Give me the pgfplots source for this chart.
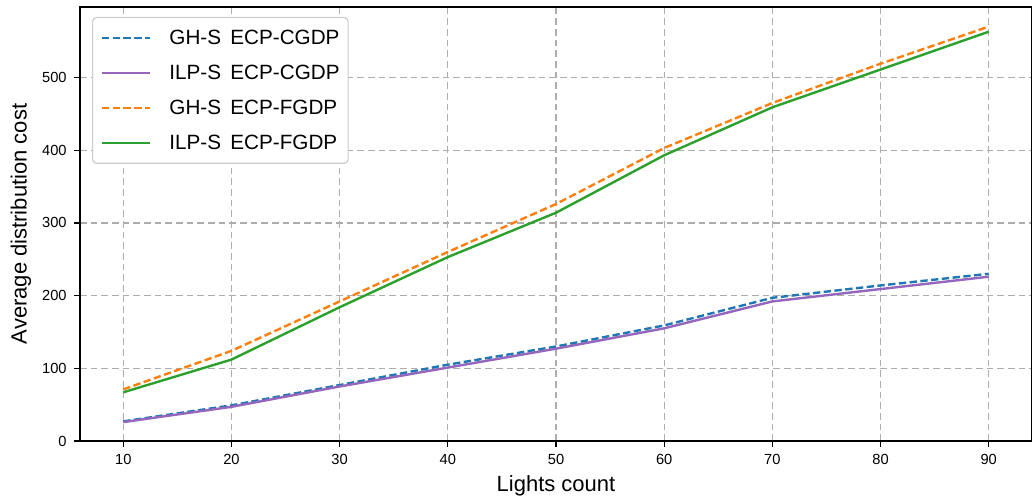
\documentclass[border=0pt]{standalone}
\usepackage{pgfplots}
\pgfplotsset{compat=1.18}
\usepackage{fontspec}
\setmainfont{Liberation Sans}
\definecolor{tabblue}{HTML}{1F77B4}
\definecolor{tabpurple}{HTML}{9467BD}
\definecolor{taborange}{HTML}{FF7F0E}
\definecolor{tabgreen}{HTML}{2CA02C}
\newcommand{\lent}[2]{\makebox[128pt][l]{\hspace{7pt}#1\hspace{0.45em}#2}}
\begin{document}
\begin{tikzpicture}
\begin{axis}[
  name=ax,
  scale only axis,
  width=714pt, height=325.5pt,
  xmin=6, xmax=94, ymin=0, ymax=597,
  xtick={10,20,...,90},
  ytick={0,100,...,500},
  tick align=outside,
  tick pos=left,
  major tick length=4.5pt,
  every tick/.style={black, line width=0.9pt},
  axis line style={black, line width=1.1pt},
  grid=major,
  major grid style={dash pattern=on 5pt off 3pt, color=black!32, line width=1pt},
  ticklabel style={font=\fontsize{11}{13}\selectfont},
  xticklabel style={yshift=-2pt},
  yticklabel style={xshift=-2pt},
  /pgf/number format/assume math mode=true,
  xlabel={Lights count},
  ylabel={Average distribution cost},
  label style={font=\fontsize{16.5}{19}\selectfont},
  xlabel style={at={(axis description cs:0.5,-0.104)}, anchor=center},
  ylabel style={at={(axis description cs:-0.062,0.5)}, anchor=center},
  legend style={at={(axis description cs:0,1)}, xshift=9pt, yshift=-7.5pt, anchor=north west,
    draw=black!20, rounded corners=3pt, line width=0.9pt,
    font=\fontsize{15.5}{18}\selectfont, row sep=10pt, inner xsep=6pt, inner ysep=7pt,
    nodes={inner xsep=7pt}},
  legend cell align=left,
  legend image post style={xscale=2.1},
]
\addplot[tabblue, line width=1.8pt, dash pattern=on 5.5pt off 2.6pt] coordinates {
(10,27) (20,49) (30,77) (40,105) (50,130) (60,159) (70,197) (80,214) (90,230)};
\addlegendentry{\lent{GH-S}{ECP-CGDP}}
\addplot[tabpurple, line width=1.8pt] coordinates {
(10,26) (20,47) (30,75) (40,101) (50,127) (60,155) (70,192) (80,209) (90,226)};
\addlegendentry{\lent{ILP-S}{ECP-CGDP}}
\addplot[taborange, line width=1.8pt, dash pattern=on 5.5pt off 2.6pt] coordinates {
(10,71) (20,124) (30,192) (40,260) (50,326) (60,403) (70,465) (80,519) (90,570)};
\addlegendentry{\lent{GH-S}{ECP-FGDP}}
\addplot[tabgreen, line width=1.8pt] coordinates {
(10,67) (20,112) (30,184) (40,253) (50,314) (60,393) (70,459) (80,511) (90,563)};
\addlegendentry{\lent{ILP-S}{ECP-FGDP}}
\end{axis}
\pgfresetboundingbox
\path ([xshift=-60pt,yshift=-42pt]ax.south west) rectangle ([yshift=5.25pt]ax.north east);
\end{tikzpicture}
\end{document}
